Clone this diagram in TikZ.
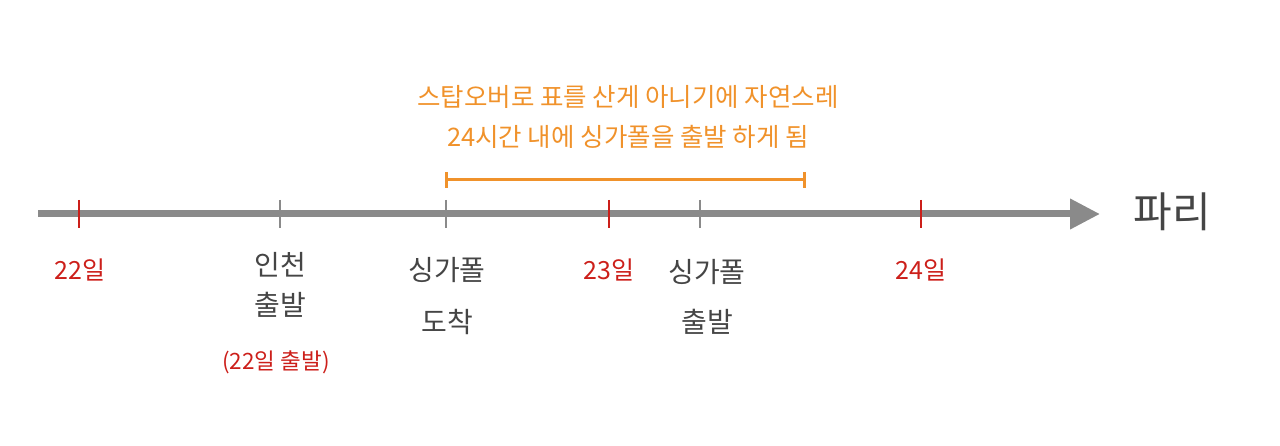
\documentclass[tikz,border=0pt]{standalone}
\usepackage{fontspec}
\setmainfont{Noto Sans CJK KR}
\usetikzlibrary{arrows.meta}

\definecolor{axisgray}{HTML}{8A8A8A}
\definecolor{labelgray}{HTML}{454545}
\definecolor{datered}{HTML}{CC1F1A}
\definecolor{noteorange}{HTML}{F0922B}

\begin{document}
\begin{tikzpicture}[x=1pt, y=-1pt,
  every node/.style={inner sep=0pt, text=labelgray},
  axisline/.style={draw=axisgray, line width=7pt, -{Triangle[length=30pt, width=29pt]}},
  graytick/.style={draw=axisgray, line width=2pt},
  redtick/.style={draw=datered, line width=2pt},
  datelabel/.style={text=datered, font=\fontsize{25}{28}\selectfont},
  place/.style={font=\fontsize{28}{40}\selectfont, align=center},
  note/.style={text=noteorange, font=\fontsize{25.5}{40}\selectfont, align=center},
  span/.style={draw=noteorange, line width=3pt}
]
\useasboundingbox (0,0) rectangle (1280,446);

% time axis
\coordinate (start) at (38,214);
\coordinate (paris) at (1100,214);
\draw[axisline] (start) -- (paris);
\node[font=\fontsize{42}{46}\selectfont] (parislabel) at (1172,212) {파리};

% points on the axis
\coordinate (d22) at (79,214);
\coordinate (icn) at (280,214);
\coordinate (sinarr) at (446,214);
\coordinate (d23) at (609,214);
\coordinate (sindep) at (700,214);
\coordinate (d24) at (921,214);

\foreach \p in {d22,d23,d24}
  \draw[redtick] (\p) ++(0,-14) -- ++(0,28);
\foreach \p in {icn,sinarr,sindep}
  \draw[graytick] (\p) ++(0,-14) -- ++(0,28);

% dates
\node[datelabel] (l22) at (80,270) {22일};
\node[datelabel] (l23) at (609,270) {23일};
\node[datelabel] (l24) at (921,270) {24일};

% places
\node[place] (licn) at (280,285) {인천\\출발};
\node[datelabel, font=\fontsize{22.5}{26}\selectfont] (licnnote) at (276,362) {(22일 출발)};
\node[place] (lsinarr) at (447,296) {싱가폴\\[12pt]도착};
\node[place] (lsindep) at (707,297) {싱가폴\\[10pt]출발};

% stopover note
\node[note] (stopover) at (628,117) {스탑오버로 표를 산게 아니기에 자연스레\\24시간 내에 싱가폴을 출발 하게 됨};
\coordinate (spanl) at (446,180);
\coordinate (spanr) at (804,180);
\draw[span] (spanl) -- (spanr);
\draw[span] (spanl) ++(0,-8) -- ++(0,16);
\draw[span] (spanr) ++(0,-8) -- ++(0,16);
\end{tikzpicture}
\end{document}
